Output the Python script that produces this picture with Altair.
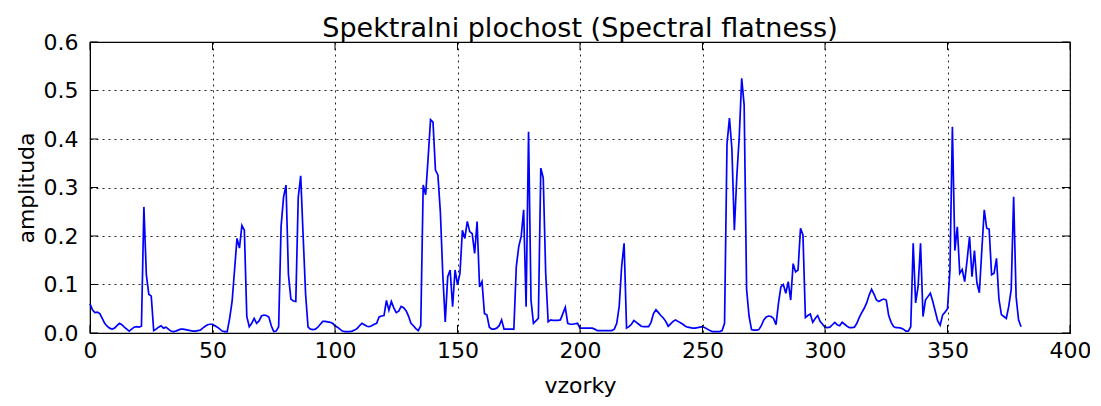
import altair as alt
import pandas as pd

# Spectral flatness values, samples 0..380
seg_a = [
    0.060, 0.048, 0.042, 0.043, 0.040, 0.030, 0.020, 0.014, 0.010, 0.008,
    0.010, 0.015, 0.020, 0.017, 0.012, 0.008, 0.004, 0.008, 0.012, 0.013,
    0.012, 0.014, 0.260, 0.120, 0.080, 0.076, 0.005, 0.008, 0.012, 0.015,
    0.010, 0.012, 0.008, 0.004, 0.003, 0.004, 0.006, 0.008, 0.008, 0.007,
    0.006, 0.005, 0.004, 0.004, 0.005, 0.006, 0.010, 0.014, 0.017, 0.018,
    0.018, 0.015, 0.012, 0.008, 0.004, 0.003, 0.003, 0.030, 0.065, 0.130,
    0.195, 0.175, 0.222, 0.212, 0.034, 0.013, 0.020, 0.030, 0.020, 0.025,
    0.035, 0.037, 0.036, 0.033, 0.015, 0.003, 0.004, 0.013, 0.220, 0.280,
    0.305, 0.120, 0.070, 0.066, 0.065, 0.280, 0.324, 0.200, 0.080, 0.012,
    0.008, 0.007, 0.008, 0.012, 0.018, 0.024, 0.024, 0.023, 0.022, 0.020,
]
seg_b = [
    0.015, 0.012, 0.008, 0.004, 0.003, 0.003, 0.003, 0.004, 0.006, 0.009,
    0.015, 0.020, 0.017, 0.014, 0.013, 0.015, 0.018, 0.020, 0.033, 0.035,
    0.036, 0.067, 0.047, 0.065, 0.052, 0.042, 0.045, 0.055, 0.052, 0.046,
    0.035, 0.020, 0.015, 0.009, 0.005, 0.015, 0.305, 0.285, 0.360, 0.440,
    0.435, 0.336, 0.326, 0.250, 0.120, 0.023, 0.116, 0.130, 0.054, 0.130,
    0.100, 0.123, 0.212, 0.195, 0.230, 0.209, 0.205, 0.164, 0.230, 0.095,
    0.106, 0.040, 0.037, 0.012, 0.008, 0.008, 0.010, 0.015, 0.027, 0.008,
    0.008, 0.008, 0.008, 0.008, 0.137, 0.178, 0.199, 0.254, 0.054, 0.415,
    0.068, 0.020, 0.025, 0.030, 0.340, 0.320, 0.123, 0.023, 0.027, 0.026,
    0.026, 0.026, 0.027, 0.040, 0.053, 0.020, 0.018, 0.018, 0.019, 0.020,
]
seg_c = [
    0.010, 0.010, 0.010, 0.010, 0.010, 0.010, 0.008, 0.005, 0.005, 0.005,
    0.005, 0.005, 0.005, 0.005, 0.008, 0.020, 0.055, 0.137, 0.185, 0.010,
    0.013, 0.018, 0.026, 0.022, 0.018, 0.014, 0.013, 0.013, 0.013, 0.022,
    0.040, 0.048, 0.042, 0.036, 0.031, 0.024, 0.014, 0.019, 0.024, 0.027,
    0.024, 0.021, 0.018, 0.014, 0.012, 0.011, 0.010, 0.010, 0.011, 0.012,
    0.013, 0.011, 0.008, 0.005, 0.003, 0.003, 0.003, 0.003, 0.005, 0.020,
    0.390, 0.443, 0.380, 0.212, 0.322, 0.405, 0.525, 0.470, 0.090, 0.035,
    0.007, 0.006, 0.006, 0.007, 0.015, 0.027, 0.033, 0.035, 0.034, 0.030,
    0.017, 0.061, 0.095, 0.100, 0.082, 0.106, 0.068, 0.143, 0.126, 0.130,
    0.216, 0.202, 0.032, 0.036, 0.039, 0.022, 0.030, 0.036, 0.024, 0.018,
]
seg_d = [
    0.012, 0.011, 0.012, 0.017, 0.022, 0.017, 0.015, 0.022, 0.018, 0.014,
    0.011, 0.011, 0.012, 0.020, 0.032, 0.042, 0.051, 0.062, 0.078, 0.090,
    0.080, 0.068, 0.065, 0.068, 0.070, 0.068, 0.036, 0.022, 0.013, 0.011,
    0.011, 0.010, 0.008, 0.004, 0.004, 0.013, 0.185, 0.062, 0.096, 0.185,
    0.034, 0.068, 0.075, 0.082, 0.065, 0.045, 0.025, 0.016, 0.037, 0.043,
    0.050, 0.130, 0.425, 0.170, 0.219, 0.123, 0.131, 0.106, 0.150, 0.199,
    0.116, 0.170, 0.103, 0.083, 0.170, 0.254, 0.216, 0.214, 0.120, 0.123,
    0.154, 0.070, 0.038, 0.034, 0.030, 0.055, 0.090, 0.281, 0.075, 0.027,
    0.013,
]
values = seg_a + seg_b + seg_c + seg_d
samples = list(range(len(values)))

x_ticks = [0, 50, 100, 150, 200, 250, 300, 350, 400]
y_ticks = [0.0, 0.1, 0.2, 0.3, 0.4, 0.5, 0.6]

title_text = "Spektralni plochost (Spectral flatness)"
x_title = "vzorky"
y_title = "amplituda"

W, H = 980, 291
TICK = 8
FONT = "DejaVu Sans"

df = pd.DataFrame({"sample": samples, "value": values})
xt = pd.DataFrame({"sample": x_ticks})
yt = pd.DataFrame({"value": y_ticks})

xscale = alt.Scale(domain=[0, 400], nice=False, zero=False)
yscale = alt.Scale(domain=[0, 0.6], nice=False, zero=False)

x_enc = alt.X("sample:Q", scale=xscale,
              axis=alt.Axis(values=x_ticks, title=x_title, format="d",
                            labelPadding=7, titlePadding=14))
y_enc = alt.Y("value:Q", scale=yscale,
              axis=alt.Axis(values=y_ticks, title=y_title, format=".1f",
                            labelPadding=12, titlePadding=5))

line = alt.Chart(df).mark_line(color="#0000ff", strokeWidth=1.7).encode(
    x=x_enc, y=y_enc)

tick_bottom = alt.Chart(xt).mark_rule(color="black", strokeWidth=1).encode(
    x=x_enc, y=alt.value(H), y2=alt.value(H - TICK))
tick_top = alt.Chart(xt).mark_rule(color="black", strokeWidth=1).encode(
    x=x_enc, y=alt.value(0), y2=alt.value(TICK))
tick_left = alt.Chart(yt).mark_rule(color="black", strokeWidth=1).encode(
    y=y_enc, x=alt.value(0), x2=alt.value(TICK))
tick_right = alt.Chart(yt).mark_rule(color="black", strokeWidth=1).encode(
    y=y_enc, x=alt.value(W), x2=alt.value(W - TICK))

chart = alt.layer(line, tick_bottom, tick_top, tick_left, tick_right).properties(
    width=W, height=H,
    title=alt.TitleParams(title_text, font=FONT, fontSize=27, fontWeight="normal",
                          color="black", anchor="middle", offset=-12, frame="group"),
    autosize=alt.AutoSizeParams(type="none"),
    padding={"left": 82, "top": 34, "right": 20, "bottom": 70},
).configure_axis(
    labelFont=FONT, labelFontSize=22, labelColor="black",
    titleFont=FONT, titleFontSize=22, titleFontWeight="normal", titleColor="black",
    ticks=False, domainColor="black", domainWidth=1,
    grid=True, gridColor="black", gridDash=[2, 4], gridWidth=1, gridOpacity=0.85,
    labelFlush=False,
).configure_view(
    stroke="black", strokeWidth=1.2,
)

chart.save("out.html", embed_options={"renderer": "svg", "actions": False})
